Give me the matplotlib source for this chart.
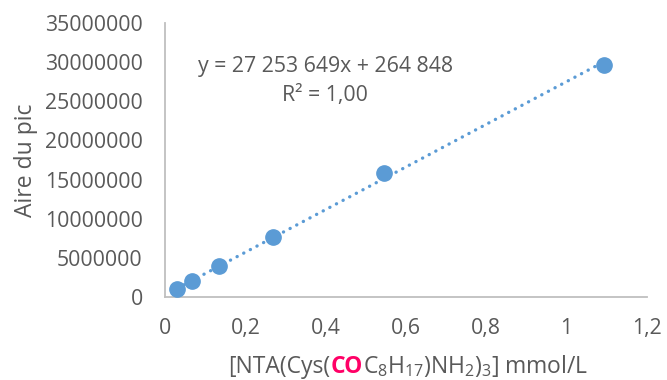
import numpy as np
import matplotlib
matplotlib.use("Agg")
import matplotlib.pyplot as plt

plt.rcParams['font.family'] = ['Open Sans', 'DejaVu Sans']
plt.rcParams['mathtext.fontset'] = 'custom'
plt.rcParams['mathtext.rm'] = 'Open Sans'
plt.rcParams['mathtext.it'] = 'Open Sans:italic'
plt.rcParams['mathtext.bf'] = 'Open Sans:bold'

conc = [0.031, 0.066, 0.134, 0.270, 0.545, 1.094]
area = [1.05e6, 2.0e6, 4.0e6, 7.65e6, 15.85e6, 29.65e6]
slope = 27253649
intercept = 264848
equation = "y = 27 253 649x + 264 848"
r2_text = "R² = 1,00"
xticks = [0, 0.2, 0.4, 0.6, 0.8, 1.0, 1.2]
xticklabels = ["0", "0,2", "0,4", "0,6", "0,8", "1", "1,2"]
yticks = [0, 5e6, 10e6, 15e6, 20e6, 25e6, 30e6, 35e6]
yticklabels = ["0", "5000000", "10000000", "15000000", "20000000", "25000000", "30000000", "35000000"]

blue = "#5B9BD5"
gray = "#595959"

fig = plt.figure(figsize=(6.67, 3.8), dpi=100)
ax = fig.add_axes([165/667, 1-297/380, (647-165)/667, (297-23)/380])

xl = np.array([min(conc), max(conc)])
ax.plot(xl, slope*xl + intercept, color=blue, lw=2.4, linestyle=(0, (0.05, 2.2)),
        dash_capstyle='round', zorder=2)
ax.plot(conc, area, 'o', color=blue, markersize=11, zorder=3)

ax.set_xlim(0, 1.2)
ax.set_ylim(0, 35e6)
ax.set_xticks(xticks)
ax.set_xticklabels(xticklabels)
ax.set_yticks(yticks)
ax.set_yticklabels(yticklabels)
ax.tick_params(axis='both', length=0, labelsize=15.3, colors=gray)
ax.tick_params(axis='y', pad=16)
ax.tick_params(axis='x', pad=15)
for s in ['top', 'right']:
    ax.spines[s].set_visible(False)
for s in ['left', 'bottom']:
    ax.spines[s].set_color('#BFBFBF')
    ax.spines[s].set_linewidth(1.3)

ax.set_ylabel("Aire du pic", fontsize=16.5, color=gray, labelpad=5)

fig.text(326/667, 1-72/380, equation, ha='center', va='baseline', fontsize=15.3, color=gray)
fig.text(325/667, 1-101.5/380, r2_text, ha='center', va='baseline', fontsize=15.3, color=gray)

# x-axis label with coloured "CO"
parts = [("[NTA(Cys(", gray, 'normal'),
         ("CO", "#FF0066", 'bold'),
         (r"C$_8$H$_{17}$)NH$_2$)$_3$] mmol/L", gray, 'normal')]
fig.canvas.draw()
renderer = fig.canvas.get_renderer()
texts = []
ybase = 1 - 373/380
for s, c, w in parts:
    t = fig.text(0, ybase, s, color=c, fontweight=w, fontsize=16.5, va='baseline', ha='left')
    texts.append(t)
widths = [t.get_window_extent(renderer).width for t in texts]
total = sum(widths)
x = 408 - total/2
for t, w in zip(texts, widths):
    t.set_x(x/667)
    x += w

fig.savefig("out.png", dpi=100)
